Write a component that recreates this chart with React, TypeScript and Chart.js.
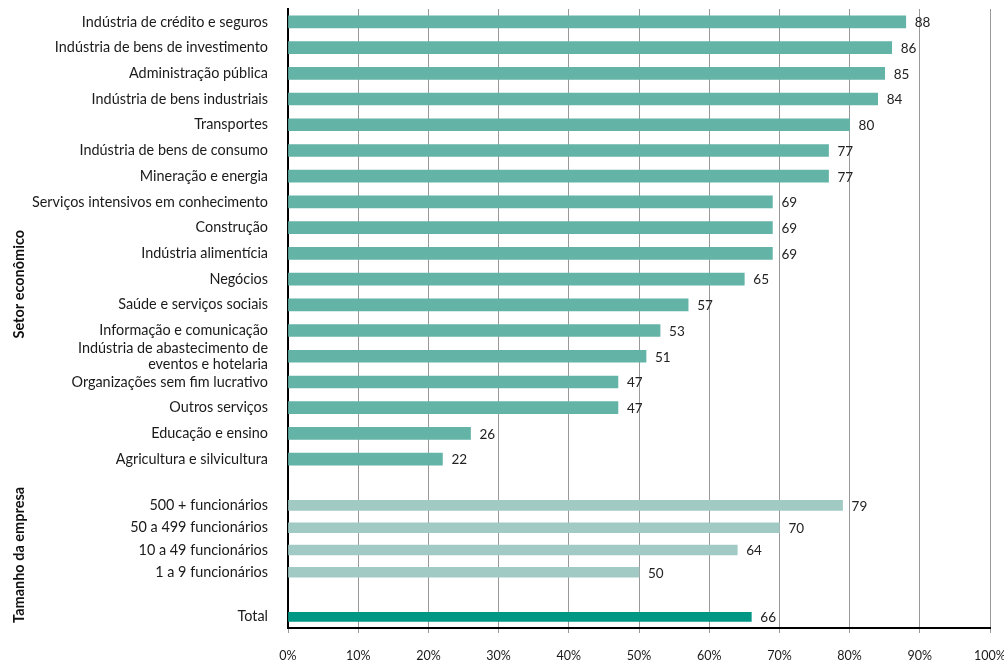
import React, { useEffect, useRef } from 'react';
import { Chart, registerables } from 'chart.js';

Chart.register(...registerables);

const sectorLabels: (string | string[])[] = [
  'Indústria de crédito e seguros',
  'Indústria de bens de investimento',
  'Administração pública',
  'Indústria de bens industriais',
  'Transportes',
  'Indústria de bens de consumo',
  'Mineração e energia',
  'Serviços intensivos em conhecimento',
  'Construção',
  'Indústria alimentícia',
  'Negócios',
  'Saúde e serviços sociais',
  'Informação e comunicação',
  ['Indústria de abastecimento de', 'eventos e hotelaria'],
  'Organizações sem fim lucrativo',
  'Outros serviços',
  'Educação e ensino',
  'Agricultura e silvicultura',
];
const sectorValues = [88, 86, 85, 84, 80, 77, 77, 69, 69, 69, 65, 57, 53, 51, 47, 47, 26, 22];

const lowerLabels = ['', '500 + funcionários', '50 a 499 funcionários', '10 a 49 funcionários', '1 a 9 funcionários', '', 'Total'];
const sizeValues = [null, 79, 70, 64, 50, null, null];
const totalValues = [null, null, null, null, null, null, 66];

const groupTitles = ['Setor econômico', 'Tamanho da empresa'];
const xTickSuffix = '%';

const FONT = 'Lato, "Open Sans", sans-serif';

const valueLabels = {
  id: 'valueLabels',
  afterDatasetsDraw(chart: any) {
    const ctx = chart.ctx;
    ctx.save();
    ctx.font = `13.5px ${FONT}`;
    ctx.fillStyle = '#222';
    ctx.textAlign = 'left';
    ctx.textBaseline = 'middle';
    chart.data.datasets.forEach((ds: any, di: number) => {
      const meta = chart.getDatasetMeta(di);
      meta.data.forEach((el: any, i: number) => {
        const v = ds.data[i];
        if (v === null || v === undefined) return;
        ctx.fillText(String(v), el.x + 9, el.y + 1);
      });
    });
    ctx.restore();
  },
};

const groupTitlePlugin = {
  id: 'groupTitles',
  afterDraw(chart: any) {
    const ctx = chart.ctx;
    const ys = chart.scales.ySector;
    const yl = chart.scales.yLower;
    const positions = [ys.getPixelForValue(10.2), yl.getPixelForValue(3.22)];
    ctx.save();
    ctx.font = `bold 14.5px ${FONT}`;
    ctx.fillStyle = '#111';
    ctx.textAlign = 'center';
    ctx.textBaseline = 'middle';
    groupTitles.forEach((t, i) => {
      ctx.save();
      ctx.translate(19, positions[i]);
      ctx.rotate(-Math.PI / 2);
      ctx.fillText(t, 0, 0);
      ctx.restore();
    });
    ctx.restore();
  },
};

export default function App() {
  const ref = useRef<HTMLCanvasElement>(null);
  useEffect(() => {
    if (!ref.current) return;
    const yCommon = {
      type: 'category' as const,
      position: 'left' as const,
      stack: 'left',
      offset: true,
      grid: { display: false, drawTicks: false },
      border: { display: true, color: '#000', width: 2 },
      ticks: {
        autoSkip: false,
        padding: 20,
        color: '#1a1a1a',
        font: { family: FONT, size: 14.4, lineHeight: 1.1 },
      },
      afterFit: (scale: any) => {
        scale.width = 288;
        scale.paddingTop = 0;
        scale.paddingBottom = 0;
      },
    };
    const chart = new Chart(ref.current, {
      type: 'bar',
      data: {
        datasets: [
          {
            label: 'Setor',
            data: sectorValues,
            yAxisID: 'ySector',
            backgroundColor: '#63b3a6',
            barThickness: 12,
            grouped: false,
          } as any,
          {
            label: 'Tamanho',
            data: sizeValues,
            yAxisID: 'yLower',
            backgroundColor: '#a2cac4',
            barThickness: 10,
            grouped: false,
          } as any,
          {
            label: 'Total',
            data: totalValues,
            yAxisID: 'yLower',
            backgroundColor: '#009884',
            barThickness: 9,
            grouped: false,
          } as any,
        ],
      },
      options: {
        indexAxis: 'y',
        responsive: false,
        animation: false,
        devicePixelRatio: 1,
        layout: { padding: { top: 9, right: 14, left: 0, bottom: 0 } },
        plugins: {
          legend: { display: false },
          tooltip: { enabled: false },
        },
        scales: {
          x: {
            type: 'linear',
            min: 0,
            max: 100,
            position: 'bottom',
            grid: { color: '#999', lineWidth: 1, tickLength: 5, drawTicks: true },
            border: { display: true, color: '#000', width: 2 },
            ticks: {
              stepSize: 10,
              padding: 15,
              color: '#1a1a1a',
              font: { family: FONT, size: 12.5 },
              callback: (v: any) => `${v}${xTickSuffix}`,
            },
            afterFit: (scale: any) => {
              scale.height = 35;
              scale.paddingLeft = 0;
              scale.paddingRight = 0;
            },
          },
          ySector: {
            ...yCommon,
            labels: sectorLabels as any,
            stackWeight: 463,
            weight: 2,
          },
          yLower: {
            ...yCommon,
            labels: lowerLabels,
            stackWeight: 156,
            weight: 1,
          },
        } as any,
      },
      plugins: [valueLabels, groupTitlePlugin],
    });
    return () => chart.destroy();
  }, []);
  return (
    <div style={{ position: 'fixed', left: 0, top: 0, width: 1004, height: 663, background: '#fff' }}>
      <canvas ref={ref} width={1004} height={663} style={{ display: 'block' }} />
    </div>
  );
}
